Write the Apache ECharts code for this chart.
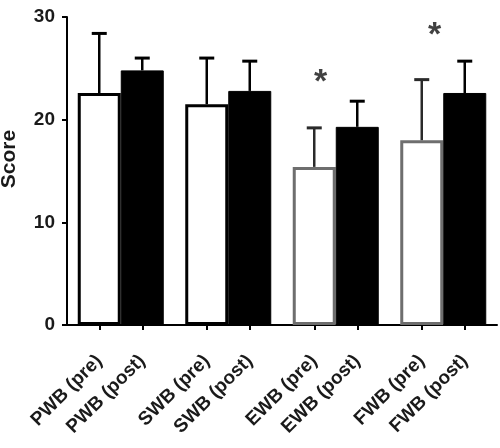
<!DOCTYPE html>
<html><head><meta charset="utf-8">
<script src="https://cdn.jsdelivr.net/npm/echarts@6/dist/echarts.min.js"></script>
<style>html,body{margin:0;padding:0;background:#fff}#c{width:500px;height:448px}</style>
</head><body><div id="c"></div>
<script>
const groups = ['PWB', 'SWB', 'EWB', 'FWB'];
const barLabels = ['PWB (pre)', 'PWB (post)', 'SWB (pre)', 'SWB (post)', 'EWB (pre)', 'EWB (post)', 'FWB (pre)', 'FWB (post)'];
const preValues = [22.6, 21.5, 15.4, 18.0];
const preErrors = [5.8, 4.5, 3.8, 5.9];
const postValues = [24.8, 22.8, 19.3, 22.6];
const postErrors = [1.2, 2.9, 2.5, 3.1];
const starX = [5.15, 7.8];
const starY = [24.4, 29.0];
const yTicks = [0, 10, 20, 30];

const FONT = 'Liberation Sans, Arial, sans-serif';
const TEXT = '#1a1a1a';
const groupStep = 2.5;
const positions = [];
const barData = [];
const errData = [];
const errColors = [];
groups.forEach((g, i) => {
  const xp = i * groupStep, xq = i * groupStep + 1;
  positions.push(xp, xq);
  const grey = i >= 2;
  barData.push({ value: [xp, preValues[i]], itemStyle: { color: '#fff', borderColor: grey ? '#6e6e6e' : '#000', borderWidth: 3 } });
  barData.push({ value: [xq, postValues[i]], itemStyle: { color: '#000', borderColor: '#000', borderWidth: 1 } });
  errData.push([xp, preValues[i], preValues[i] + preErrors[i]]);
  errColors.push(grey ? '#2a2a2a' : '#000');
  errData.push([xq, postValues[i], postValues[i] + postErrors[i]]);
  errColors.push('#000');
});
const starData = starX.map((x, k) => [x, starY[k]]);
const labelMap = {};
positions.forEach((p, k) => { labelMap[p] = barLabels[k]; });

const chart = echarts.init(document.getElementById('c'), null, { renderer: 'canvas' });
chart.setOption({
  animation: false,
  grid: { left: 67, right: 3, top: 17, bottom: 123, outerBoundsMode: 'none', containLabel: false },
  xAxis: {
    type: 'value', min: -0.75, max: 9.25,
    splitLine: { show: false },
    axisLine: { show: true, onZero: false, lineStyle: { color: '#000', width: 2 } },
    axisTick: { show: true, customValues: positions, length: 5, lineStyle: { color: '#000', width: 2 } },
    axisLabel: {
      customValues: positions, rotate: 45, margin: 33,
      formatter: v => labelMap[v] || '',
      color: TEXT, fontSize: 19, fontWeight: 'bold', fontFamily: FONT
    }
  },
  yAxis: {
    type: 'value', min: 0, max: 30, interval: 10,
    name: 'Score', nameLocation: 'middle', nameGap: 47, nameMoveOverlap: false,
    nameTextStyle: { color: TEXT, fontSize: 21, fontWeight: 'bold', fontFamily: FONT, padding: [0, 0, 0, 24] },
    splitLine: { show: false },
    axisLine: { show: true, onZero: false, lineStyle: { color: '#000', width: 2 } },
    axisTick: { show: true, length: 5, lineStyle: { color: '#000', width: 2 } },
    axisLabel: { color: TEXT, fontSize: 19, fontWeight: 'bold', fontFamily: FONT, margin: 12,
      formatter: v => yTicks.includes(v) ? String(v) : '' }
  },
  series: [
    {
      type: 'bar', data: barData, barWidth: 43, z: 2
    },
    {
      type: 'custom', data: errData, z: 3,
      encode: { x: 0, y: [1, 2] },
      renderItem: (params, api) => {
        const x = api.value(0);
        const lo = api.coord([x, api.value(1)]);
        const hi = api.coord([x, api.value(2)]);
        const col = errColors[params.dataIndex];
        const half = 7.5;
        return {
          type: 'group',
          children: [
            { type: 'line', shape: { x1: lo[0], y1: lo[1], x2: hi[0], y2: hi[1] }, style: { stroke: col, lineWidth: 2.5 } },
            { type: 'line', shape: { x1: hi[0] - half, y1: hi[1], x2: hi[0] + half, y2: hi[1] }, style: { stroke: col, lineWidth: 3 } }
          ]
        };
      }
    },
    {
      type: 'scatter', data: starData, symbolSize: 0, z: 4,
      label: { show: true, position: 'inside', formatter: '*', color: '#111', fontSize: 34, fontWeight: 'bold', fontFamily: FONT, offset: [0, 8] }
    }
  ]
});
</script>
</body></html>
